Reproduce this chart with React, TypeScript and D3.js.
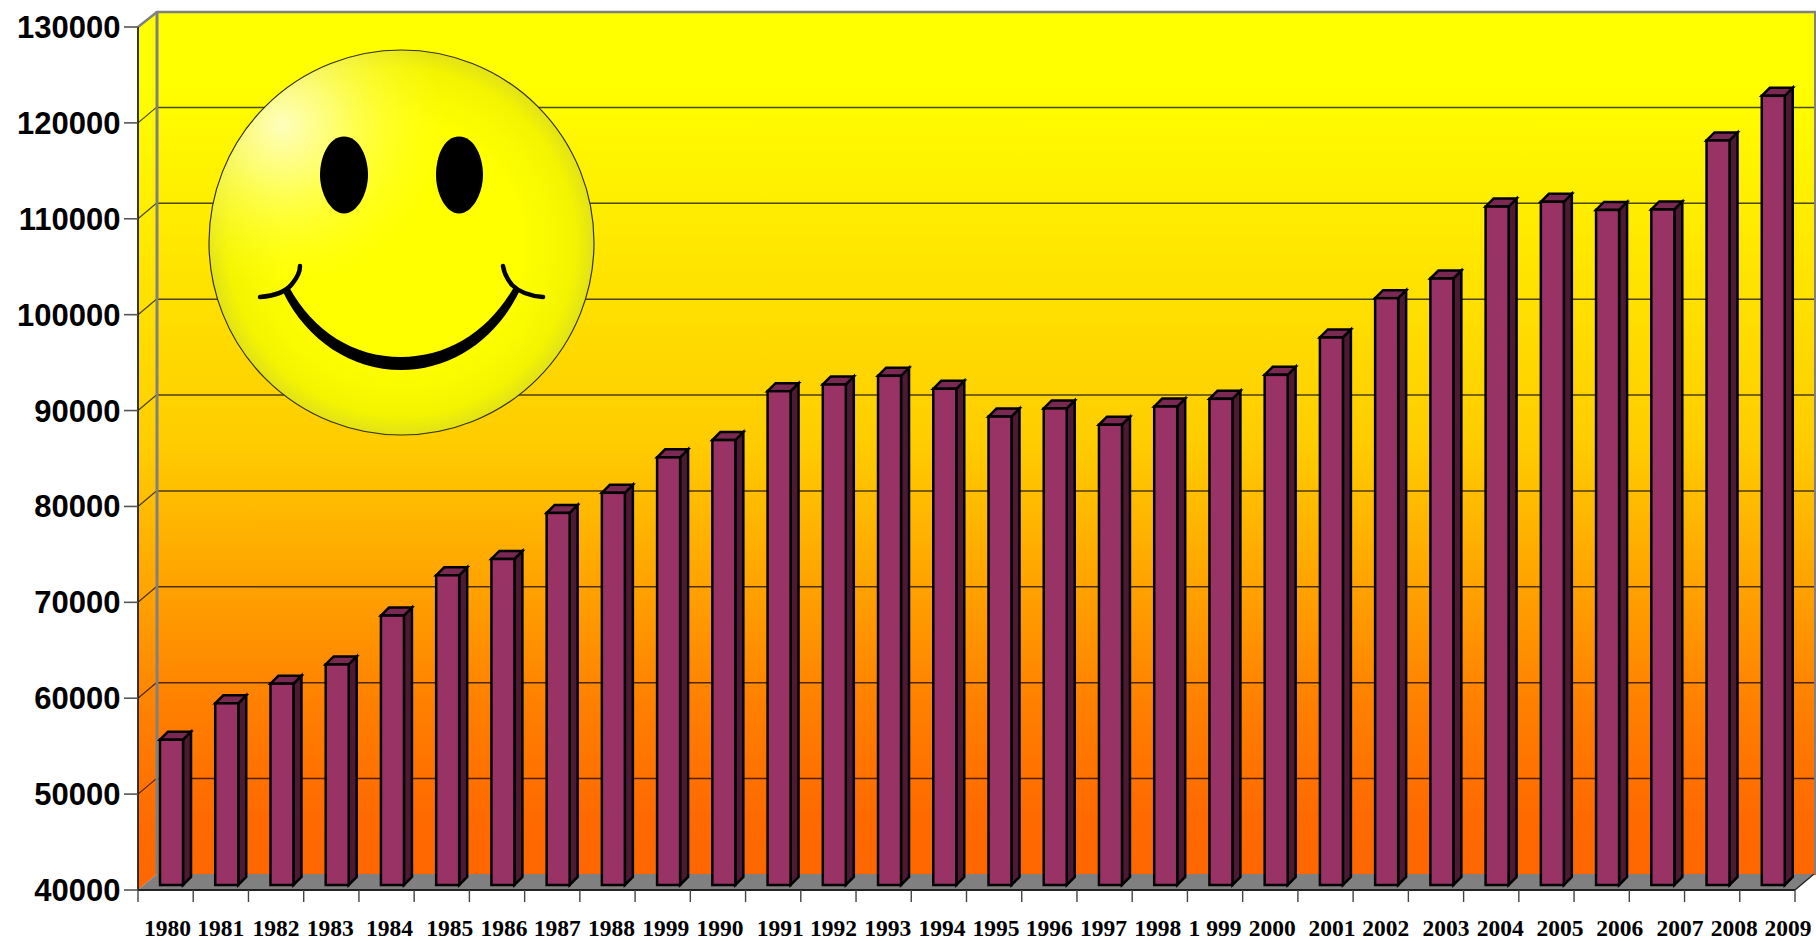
import React from "react";
import * as d3 from "d3";

const years = ["1980","1981","1982","1983","1984","1985","1986","1987","1988","1999","1990","1991","1992","1993","1994","1995","1996","1997","1998","1 999","2000","2001","2002","2003","2004","2005","2006","2007","2008","2009"];
const values = [55150,58950,61000,63000,68100,72300,74000,78800,80900,84600,86400,91500,92200,93100,91750,88850,89700,88000,89900,90700,93200,97100,101200,103250,110750,111250,110400,110450,117650,122300];
const yTicks = [40000,50000,60000,70000,80000,90000,100000,110000,120000,130000];
// The reference's year labels drift away from their slots; horizontal shift of each one.
const labelShift = [2,0,0,-1,3,8,7,5,4,3,2,7,5,4,3,2,0,-1,-2,0,2,6.5,5,10,9,13.5,18,23,22,20.6];

const W = 1816, H = 941;
const left = 138, right = 1795, baseY = 890, topY = 27;
const depthX = 19, depthY = 16;
const barW = 23, barDX = 8, barDY = 8;
const barOffsetX = 22, barInsetY = 5;

const x = d3.scaleBand<string>().domain(years.map((_, i) => String(i))).range([left, right]);
const y = d3.scaleLinear().domain([40000, 130000]).range([baseY, topY]);
const poly = (pts: number[][]) => (d3.line()(pts as [number, number][]) as string) + "Z";

const gradStops: [number, number][] = [[0,255],[0.08,255],[0.3,228],[0.5,204],[0.8,128],[0.93,106],[1,102]];

export default function App() {
  return (
    <svg width={W} height={H} viewBox={`0 0 ${W} ${H}`} style={{ position: "absolute", left: 0, top: 0, display: "block", background: "#fff" }}>
      <defs>
        <linearGradient id="wall" x1="0" y1="0" x2="0" y2="1">
          {gradStops.map(([o, g]) => <stop key={o} offset={o} stopColor={`rgb(255,${g},0)`} />)}
        </linearGradient>
        <radialGradient id="face" gradientUnits="userSpaceOnUse" cx="401.5" cy="242.5" r="192.5" fx="401.5" fy="242.5">
          <stop offset="0" stopColor="#ffff00" />
          <stop offset="0.62" stopColor="#ffff00" />
          <stop offset="0.9" stopColor="#f4f400" />
          <stop offset="1" stopColor="#e2e218" />
        </radialGradient>
        <radialGradient id="shine" gradientUnits="userSpaceOnUse" cx="283" cy="125" r="165">
          <stop offset="0" stopColor="#ffffc8" stopOpacity="0.95" />
          <stop offset="0.3" stopColor="#ffff90" stopOpacity="0.8" />
          <stop offset="0.65" stopColor="#ffff50" stopOpacity="0.45" />
          <stop offset="1" stopColor="#ffff20" stopOpacity="0" />
        </radialGradient>
      </defs>

      {/* back wall and side wall */}
      <rect x={left + depthX} y={topY - depthY + 1} width={W - left - depthX} height={baseY - topY} fill="url(#wall)" />
      <path d={poly([[left, topY], [left + depthX, topY - depthY + 1], [left + depthX, baseY - depthY], [left, baseY]])} fill="url(#wall)" />
      {/* floor */}
      <path d={poly([[left, baseY], [left + depthX, baseY - depthY], [right + depthX, baseY - depthY], [right, baseY]])} fill="#808080" />

      {/* grid lines */}
      {yTicks.slice(1, -1).map((t) => (
        <g key={t} fill="none" stroke="#000" strokeOpacity="0.7">
          <path d={`M${left},${y(t)}L${left + depthX},${y(t) - depthY}`} strokeWidth={1.2} />
          <path d={`M${left + depthX},${y(t) - depthY + 0.5}H${W}`} strokeWidth={1.5} />
        </g>
      ))}

      {/* wall edges */}
      <path d={`M${left},${topY}L${left + depthX},${topY - depthY + 1}H${W}`} fill="none" stroke="#808080" strokeWidth={2.5} />
      <path d={`M${left + depthX},${topY - depthY}V${baseY - depthY}`} fill="none" stroke="#808080" strokeWidth={3} />
      <path d={`M${W - 1},${topY - depthY}V${baseY - depthY}`} fill="none" stroke="#808080" strokeWidth={2} />

      {/* smiley */}
      <circle cx={401.5} cy={242.5} r={192.5} fill="url(#face)" />
      <circle cx={401.5} cy={242.5} r={192} fill="url(#shine)" />
      <circle cx={401.5} cy={242.5} r={192.5} fill="none" stroke="#333300" strokeWidth={1.2} />
      <path d="M344,136.5C360,136.5 368,158 368,175C368,194 357,213.5 344,213.5C331,213.5 320,194 320,175C320,158 328,136.5 344,136.5Z" fill="#000" />
      <path d="M459,136.5C475,136.5 483,158 483,175C483,194 472,213.5 459,213.5C446,213.5 436,194 436,175C436,158 443,136.5 459,136.5Z" fill="#000" />
      <path d="M283,292C307,341 352,370 401,370C450,370 495,341 519,292L514,287C488,332 448,357 401,357C354,357 314,332 289,287Z" fill="#000" />
      <path d="M260,297C272,296 285,293 292,284C297,278 300,272 300,266" fill="none" stroke="#000" strokeWidth={4.5} strokeLinecap="round" />
      <path d="M543,297C531,296 520,293 512,285C507,279 504,273 503,266" fill="none" stroke="#000" strokeWidth={4.5} strokeLinecap="round" />

      {/* bars */}
      {values.map((v, i) => {
        const x0 = (x(String(i)) as number) + barOffsetX;
        const x1 = x0 + barW;
        const top = y(v) - barInsetY;
        const bot = baseY - barInsetY;
        return (
          <g key={i} stroke="#000" strokeWidth={2.5} strokeLinejoin="miter">
            <path d={poly([[x1, top], [x1 + barDX, top - barDY], [x1 + barDX, bot - barDY], [x1, bot]])} fill="#4d1a33" />
            <path d={poly([[x0, top], [x0 + barDX, top - barDY], [x1 + barDX, top - barDY], [x1, top]])} fill="#7a2952" />
            <rect x={x0} y={top} width={barW} height={bot - top} fill="#993366" />
          </g>
        );
      })}

      {/* axes */}
      <path d={`M${left},${topY}V${baseY}H${right}`} fill="none" stroke="#222" strokeWidth={1.8} />
      <path d={`M${right},${baseY}L${right + depthX},${baseY - depthY}`} fill="none" stroke="#222" strokeWidth={1.2} />
      {yTicks.map((t) => (
        <g key={t}>
          <line x1={124} x2={left} y1={y(t)} y2={y(t)} stroke="#555" strokeWidth={1.6} />
          <text x={120.5} y={y(t) + 11} textAnchor="end" fontFamily="'Liberation Sans', Arial, sans-serif" fontWeight={700} fontSize={31} fill="#000">{t}</text>
        </g>
      ))}
      {d3.range(years.length + 1).map((i) => {
        const tx = left + i * x.step();
        return <line key={i} x1={tx} x2={tx} y1={baseY} y2={902} stroke="#444" strokeWidth={1.4} />;
      })}
      {years.map((yr, i) => (
        <text key={i} x={(x(String(i)) as number) + x.bandwidth() / 2 + labelShift[i]} y={935.5} textAnchor="middle" fontFamily="'Liberation Serif', 'Times New Roman', serif" fontWeight={700} fontSize={23.5} fill="#000" xmlSpace="preserve">{yr}</text>
      ))}
    </svg>
  );
}
